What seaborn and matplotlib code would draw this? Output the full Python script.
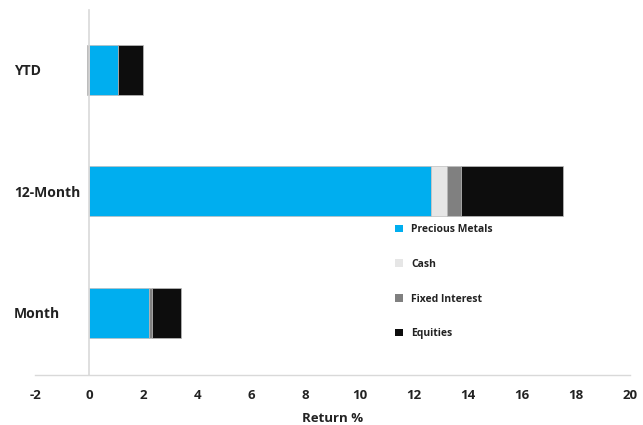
import numpy as np
import pandas as pd
import matplotlib
matplotlib.use("Agg")
import matplotlib.pyplot as plt
from matplotlib.patches import Patch
import seaborn as sns

periods = ["YTD", "12-Month", "Month"]
series = ["Precious Metals", "Cash", "Fixed Interest", "Equities"]
precious_metals = [1.07, 12.64, 2.23]
cash = [0.0, 0.60, 0.0]
fixed_interest = [-0.07, 0.50, 0.11]
equities = [0.92, 3.77, 1.05]
colors = ["#00AEEF", "#E6E6E6", "#808080", "#0D0D0D"]
x_ticks = list(range(-2, 21, 2))

values = [precious_metals, cash, fixed_interest, equities]

sns.set_theme(style="white")
plt.rcParams["font.family"] = ["Open Sans", "DejaVu Sans"]

fig = plt.figure(figsize=(6.43, 4.25), dpi=100)
W, H = 643, 425
ax = fig.add_axes([35 / W, 1 - 375 / H, (630 - 35) / W, (375 - 10) / H])

pos_cum = np.zeros(len(periods))
neg_cum = np.zeros(len(periods))
for name, vals, col in zip(series, values, colors):
    v = np.array(vals, dtype=float)
    left = np.where(v >= 0, pos_cum, neg_cum)
    df = pd.DataFrame({"period": periods, "value": v})
    sns.barplot(data=df, y="period", x="value", order=periods, orient="h",
                color=col, saturation=1, width=0.41, left=left,
                edgecolor="#BDBDBD", linewidth=0.5, ax=ax)
    pos_cum = pos_cum + np.where(v >= 0, v, 0)
    neg_cum = neg_cum + np.where(v < 0, v, 0)

ax.set_xlim(-2, 20)
ax.set_ylim(2.51, -0.49)
ax.set_xticks(x_ticks)
ax.set_xticklabels([str(t) for t in x_ticks], fontsize=9.5, fontweight="bold", color="#222222")
ax.set_xlabel("Return %", fontsize=9.5, fontweight="bold", color="#222222", labelpad=7)
ax.set_ylabel("")

for s in ["top", "right"]:
    ax.spines[s].set_visible(False)
ax.spines["left"].set_position(("data", 0))
ax.spines["left"].set_color("#D9D9D9")
ax.spines["bottom"].set_color("#D9D9D9")
ax.spines["left"].set_linewidth(1.2)
ax.spines["bottom"].set_linewidth(1.0)

ax.tick_params(axis="x", which="major", length=4, width=1, color="#D9D9D9", direction="out", pad=6)
ax.set_yticks([0, 1, 2])
ax.set_yticks([-0.49, 0.5, 1.5, 2.51], minor=True)
ax.tick_params(axis="y", which="minor", length=3, width=1, color="#D9D9D9", direction="out")
ax.tick_params(axis="y", which="major", length=0, pad=75 * 72 / 100)
for lbl in ax.get_yticklabels():
    lbl.set_horizontalalignment("left")
    lbl.set_fontsize(10)
    lbl.set_fontweight("bold")
    lbl.set_color("#222222")

handles = [Patch(facecolor=c, edgecolor="none") for c in colors]
leg = fig.legend(handles, series, loc="upper left",
                 bbox_to_anchor=(390 / W, 1 - 219 / H), frameon=False,
                 fontsize=7.5, handlelength=0.75, handleheight=0.75,
                 handletextpad=0.8, labelspacing=2.27, borderpad=0)
for t in leg.get_texts():
    t.set_fontweight("bold")
    t.set_color("#222222")

fig.savefig("out.png", dpi=100)
